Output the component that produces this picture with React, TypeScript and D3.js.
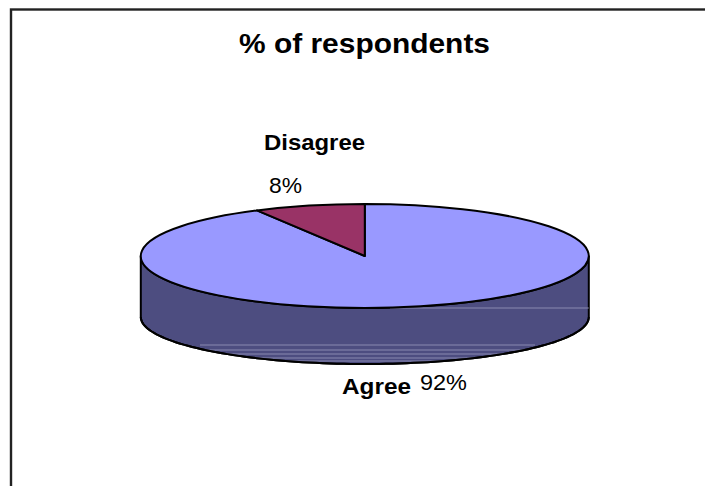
import React from "react";
import * as d3 from "d3";

const categories = ["Agree", "Disagree"];
const shares = [92, 8];
const percentLabels = ["92%", "8%"];
const chartTitle = "% of respondents";
const sheenLevels = [0, 37, 42, 46, 50, 53];

const W = 705, H = 486;
const cx = 364.8, cy = 256, rx = 224, ry = 52;
const baseCy = 317, baseRy = 47;
const FONT = "'Liberation Sans', Arial, sans-serif";
const colors = ["#9999ff", "#993366"];
const wallColor = "#4d4d80";

function Label(props: { x: number; y: number; len: number; size: number; bold?: boolean; children: string }) {
  return (
    <text
      x={props.x}
      y={props.y}
      textLength={props.len}
      lengthAdjust="spacingAndGlyphs"
      fontFamily={FONT}
      fontWeight={props.bold ? "bold" : "normal"}
      fontSize={props.size}
      fill="#000"
    >
      {props.children}
    </text>
  );
}

export default function App() {
  const startAngle = -(shares[1] / d3.sum(shares)) * 2 * Math.PI;
  const pie = d3.pie<number>().sort(null).startAngle(startAngle + 2 * Math.PI).endAngle(startAngle);
  const slices = pie(shares);
  const arc = d3.arc<d3.PieArcDatum<number>>().innerRadius(0).outerRadius(rx);

  const sweep = d3.scaleLinear().domain([0, 1]).range([Math.PI / 2, (3 * Math.PI) / 2]);
  const samples = d3.range(0, 1.0001, 0.01);
  const wall = d3
    .area<number>()
    .x((t) => cx + rx * Math.sin(sweep(t)))
    .y0((t) => cy - ry * Math.cos(sweep(t)))
    .y1((t) => baseCy - baseRy * Math.cos(sweep(t)))(samples) as string;
  const bottomEdge = d3
    .line<number>()
    .x((t) => cx + rx * Math.sin(sweep(t)))
    .y((t) => baseCy - baseRy * Math.cos(sweep(t)))(samples) as string;

  return (
    <svg
      width={W}
      height={H}
      viewBox={`0 0 ${W} ${H}`}
      style={{ position: "absolute", left: 0, top: 0, background: "#fff" }}
    >
      <defs>
        <clipPath id="wallClip">
          <path d={wall} />
        </clipPath>
      </defs>
      <rect x={11} y={9.5} width={W + 20} height={H + 20} fill="#fff" stroke="#222" strokeWidth={2.4} />
      <Label x={239} y={53} len={251} size={28.5} bold>
        {chartTitle}
      </Label>

      <path d={wall} fill={wallColor} stroke="#000" strokeWidth={2} />
      <g clipPath="url(#wallClip)">
        {sheenLevels.map((lv) => (
          <line
            key={lv}
            x1={lv === 0 ? 390 : 200}
            x2={lv === 0 ? 589 : 535}
            y1={308 + lv}
            y2={308 + lv}
            stroke="#8a8ab0"
            strokeWidth={1}
          />
        ))}
      </g>
      <path d={bottomEdge} fill="none" stroke="#000" strokeWidth={2} />

      <g transform={`translate(${cx},${cy}) scale(1,${ry / rx})`}>
        {slices.map((s, i) => (
          <path
            key={categories[i]}
            d={arc(s) as string}
            fill={colors[i]}
            stroke="#000"
            strokeWidth={2}
            vectorEffect="non-scaling-stroke"
            strokeLinejoin="round"
          />
        ))}
      </g>

      <Label x={342} y={394} len={69} size={22.5} bold>
        {categories[0]}
      </Label>
      <Label x={420} y={390} len={47} size={22.5}>
        {percentLabels[0]}
      </Label>
      <Label x={264} y={150} len={101} size={22.5} bold>
        {categories[1]}
      </Label>
      <Label x={269} y={193} len={33} size={22.5}>
        {percentLabels[1]}
      </Label>
    </svg>
  );
}
